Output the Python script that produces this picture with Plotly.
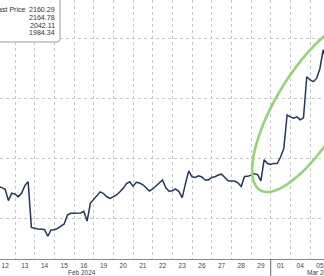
import numpy as np
import plotly.graph_objects as go

# ---- data ----
day_labels = ["12", "13", "14", "15", "16", "19", "20", "21", "22", "23",
              "26", "27", "28", "29", "01", "04", "05"]
samples_per_day = 6
# gold spot, 6 samples per trading day
prices_by_day = [
    [2027.0, 2026.3, 2025.3, 2024.0, 2014.5, 2020.7],   # 12
    [2019.9, 2017.8, 2020.5, 2027.0, 2030.3, 1992.2],   # 13
    [1991.4, 1990.8, 1990.6, 1990.4, 1984.8, 1990.0],   # 14
    [1990.2, 1991.3, 1993.2, 1995.0, 2002.5, 2003.9],   # 15
    [2004.0, 2004.3, 2004.2, 2005.5, 1997.5, 2012.5],   # 16
    [2015.5, 2019.3, 2021.8, 2020.4, 2017.7, 2016.4],   # 19
    [2017.7, 2019.2, 2021.8, 2024.7, 2028.7, 2030.2],   # 20
    [2026.4, 2029.8, 2029.1, 2027.7, 2025.2, 2022.4],   # 21
    [2024.2, 2026.9, 2029.6, 2031.7, 2025.2, 2022.3],   # 22
    [2022.7, 2024.3, 2022.0, 2017.0, 2028.7, 2039.2],   # 23
    [2034.3, 2033.8, 2035.2, 2034.2, 2031.7, 2031.7],   # 26
    [2033.8, 2034.4, 2035.8, 2036.5, 2033.8, 2031.1],   # 27
    [2030.8, 2030.8, 2029.3, 2026.3, 2034.6, 2034.7],   # 28
    [2035.7, 2036.9, 2036.2, 2031.0, 2048.6, 2045.4],   # 29
    [2044.6, 2045.5, 2045.4, 2050.8, 2058.0, 2085.8],   # 01
    [2084.3, 2083.2, 2084.3, 2081.8, 2083.5, 2117.7],   # 04
    [2115.0, 2113.6, 2116.3, 2124.4, 2140.0, 2131.7],   # 05
]
month_labels = ["Feb 2024", "Mar 2024"]
legend_name = "Last Price"
legend_values = ["2160.29", "2164.78", "2042.11", "1984.34"]
grid_prices = [2000, 2050, 2100, 2150]

# ---- build series on a trading-day index ----
x_vals, y_vals = [], []
for d, day in enumerate(prices_by_day):
    for k, p in enumerate(day):
        x_vals.append(d - 1 + k / samples_per_day)
        y_vals.append(p)

W, H = 324, 276
PLOT_H = 259          # plot area height in px (axis line at bottom)
px_per_day = 19.67
px_per_usd = 1.2
x0_px = 15            # px position of first day boundary (12|13)
xr = [-x0_px / px_per_day, (W - x0_px) / px_per_day]
yr = [2000 - (PLOT_H - 218) / px_per_usd, 2000 + 218 / px_per_usd]

fig = go.Figure()
fig.add_trace(go.Scatter(x=x_vals, y=y_vals, mode="lines",
                         line=dict(color="#22375a", width=1.5),
                         hoverinfo="skip", showlegend=False))

font = "Liberation Sans, Arial, sans-serif"
tick_centers = [i - 1 + 0.5 for i in range(len(day_labels))]
boundaries = list(range(0, len(day_labels)))

fig.update_xaxes(range=xr, tickmode="array", tickvals=tick_centers,
                 ticktext=day_labels, showgrid=False, zeroline=False,
                 ticks="", showline=True, linecolor="#8a8a8a", linewidth=1,
                 tickfont=dict(family=font, size=6.5, color="#444"),
                 minor=dict(tickmode="array", tickvals=boundaries, showgrid=True,
                            gridcolor="#c8c8c8", griddash="dot", gridwidth=1,
                            ticks=""))
fig.update_yaxes(range=yr, tickmode="array", tickvals=grid_prices,
                 showticklabels=False, showgrid=True, gridcolor="#c8c8c8",
                 griddash="dot", gridwidth=1, zeroline=False, ticks="")

shapes = []
# month separator below axis (between 29 and 01)
sep = day_labels.index("01") - 1
shapes.append(dict(type="line", xref="x", yref="paper", x0=sep, x1=sep,
                   y0=0, y1=-(H - PLOT_H) / PLOT_H, line=dict(color="#666", width=1)))

# green highlight ellipse (pixel-space geometry -> paper coords)
cx, cy, a, b, ang = 310, 107, 97, 34, np.deg2rad(59)
phi = np.linspace(0, 2 * np.pi, 120)
ux, uy = np.cos(ang), -np.sin(ang)
vx, vy = np.sin(ang), np.cos(ang)
ex = cx + a * np.cos(phi) * ux + b * np.sin(phi) * vx
ey = cy + a * np.cos(phi) * uy + b * np.sin(phi) * vy
path = "M " + " L ".join(f"{px / W:.5f},{1 - py / PLOT_H:.5f}" for px, py in zip(ex, ey)) + " Z"
shapes.append(dict(type="path", xref="paper", yref="paper", path=path,
                   line=dict(color="rgb(146,214,116)", width=2.6)))

# legend box with rounded corner
bx0, bx1, by0, by1, r = -6, 60, -6, 42, 3
def P(px, py):
    return f"{px / W:.5f},{1 - py / PLOT_H:.5f}"
box = (f"M {P(bx0, by0)} L {P(bx1 - r, by0)} Q {P(bx1, by0)} {P(bx1, by0 + r)} "
       f"L {P(bx1, by1 - r)} Q {P(bx1, by1)} {P(bx1 - r, by1)} "
       f"L {P(bx0, by1)} Z")
shapes.append(dict(type="path", xref="paper", yref="paper", path=box,
                   fillcolor="white", line=dict(color="#9a9a9a", width=1)))
fig.update_layout(shapes=shapes)

ann = []
ann.append(dict(text=legend_name, xref="paper", yref="paper", x=26.5 / W, y=1 - 10 / PLOT_H,
                xanchor="right", yanchor="middle", showarrow=False, borderpad=0,
                font=dict(family=font, size=7.1, color="#333")))
for i, v in enumerate(legend_values):
    ann.append(dict(text=v, xref="paper", yref="paper", x=56 / W,
                    y=1 - (10 + 7.75 * i) / PLOT_H, xanchor="right", yanchor="middle",
                    showarrow=False, borderpad=0,
                    font=dict(family=font, size=7.1, color="#333")))
ann.append(dict(text=month_labels[0], xref="x", yref="paper", x=(82 - x0_px) / px_per_day,
                y=-(272.7 - PLOT_H) / PLOT_H, xanchor="center", yanchor="middle",
                showarrow=False, font=dict(family=font, size=6.5, color="#444")))
ann.append(dict(text=month_labels[1], xref="x", yref="paper", x=(305 - x0_px) / px_per_day,
                y=-(272.7 - PLOT_H) / PLOT_H, xanchor="left", yanchor="middle",
                showarrow=False, font=dict(family=font, size=6.5, color="#444")))
fig.update_layout(annotations=ann)

fig.update_layout(width=W, height=H, margin=dict(l=0, r=0, t=0, b=H - PLOT_H, pad=0),
                  paper_bgcolor="white", plot_bgcolor="white", showlegend=False)
fig.write_html("out.html", config={"displayModeBar": False})
